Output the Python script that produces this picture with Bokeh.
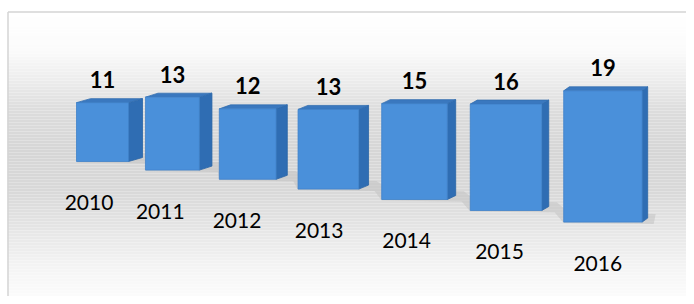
import numpy as np
from bokeh.plotting import figure
from bokeh.models import Range1d
from bokeh.embed import file_html
from bokeh.resources import INLINE
from bokeh.core.properties import value

# ---- data ----
years = ["2010", "2011", "2012", "2013", "2014", "2015", "2016"]
values = [11, 13, 12, 13, 15, 16, 19]
value_labels = [str(v) for v in values]

# ---- perspective layout (pixel space of the picture) ----
def persp(i):
    left = 76 + 66.5 * i + 2.45 * i ** 2      # left edge of front face
    total = 66 + 0.5 * i ** 2                 # width incl. side face
    depth = 14 - 1.4 * i                      # visible side-face width
    base = 161 + 8.3 * i + 0.3 * i ** 2       # floor line under the bar
    k = 5.35 + 0.26 * i                       # pixels per value unit
    return left, total, depth, base, k

W, H = 686, 296
p = figure(width=W, height=H, x_range=Range1d(0, W), y_range=Range1d(H, 0),
           output_backend="svg", toolbar_location=None, min_border=0)
p.axis.visible = False
p.grid.visible = False
p.outline_line_color = None
p.background_fill_color = "white"
p.border_fill_color = "white"

# background vertical gradient
stops_y = [11, 50, 80, 110, 150, 190, 230, 270, 304]
stops_c = [255, 251, 236, 220, 214, 216, 230, 245, 253]
ys = np.arange(11, 300, 3)
top_, bot_, cols = [], [], []
for y in ys:
    g = int(round(np.interp(y + 1.5, stops_y, stops_c)))
    top_.append(y)
    bot_.append(y + 3)
    cols.append("#%02x%02x%02x" % (g, g, g))
p.quad(left=7, right=W, top=top_, bottom=bot_, fill_color=cols, line_color=None)

# chart border
p.line([7.5, 7.5], [H, 11.5], line_color="#d4d4d4", line_width=1.5)
p.line([7.5, W], [11.5, 11.5], line_color="#d4d4d4", line_width=1.5)

# floor shadow strip
fx_top, fy_top, fx_bot, fy_bot = [], [], [], []
for i in range(len(values)):
    left, total, depth, base, k = persp(i)
    fx_top += [left + depth, left + total + 8]
    fy_top += [base - 9, base - 9 + 0.8]
    fx_bot += [left, left + total + 6]
    fy_bot += [base + 1, base + 2]
p.patch(fx_top + fx_bot[::-1], fy_top + fy_bot[::-1], fill_color="#c2c2c2",
        fill_alpha=0.55, line_color=None)

s = 4  # vertical offset of the back edge
front_xs, front_ys, side_xs, side_ys, topf_xs, topf_ys = [], [], [], [], [], []
vx, vy, yx, yy = [], [], [], []
for i, v in enumerate(values):
    left, total, depth, base, k = persp(i)
    xf = left + total - depth
    yt = base - k * v
    front_xs.append([left, xf, xf, left])
    front_ys.append([base, base, yt, yt])
    side_xs.append([xf, xf + depth, xf + depth, xf])
    side_ys.append([base, base - s, yt - s, yt])
    topf_xs.append([left, xf, xf + depth, left + depth])
    topf_ys.append([yt, yt, yt - s, yt - s])
    cx = (left + xf) / 2
    vx.append(cx)
    vy.append(yt - 23)
    yx.append(cx - 13.5 + 1.4 * i)
    yy.append(base + 41)

p.patches(side_xs, side_ys, fill_color="#2f6db3", line_color="#2a64a6", line_width=0.8)
p.patches(topf_xs, topf_ys, fill_color="#3a78bf", line_color="#336eb0", line_width=0.8)
p.patches(front_xs, front_ys, fill_color="#4a90da", line_color="#3f82c9", line_width=0.8)

p.text(x=vx, y=vy, text=value_labels, text_font=value("Lato"), text_font_style="bold",
       text_font_size="22px", text_align="center", text_baseline="middle", text_color="#000000")
p.text(x=yx, y=yy, text=years, text_font=value("Lato"),
       text_font_size="21px", text_align="center", text_baseline="middle", text_color="#000000")

open("out.html", "w").write(file_html(p, INLINE))
